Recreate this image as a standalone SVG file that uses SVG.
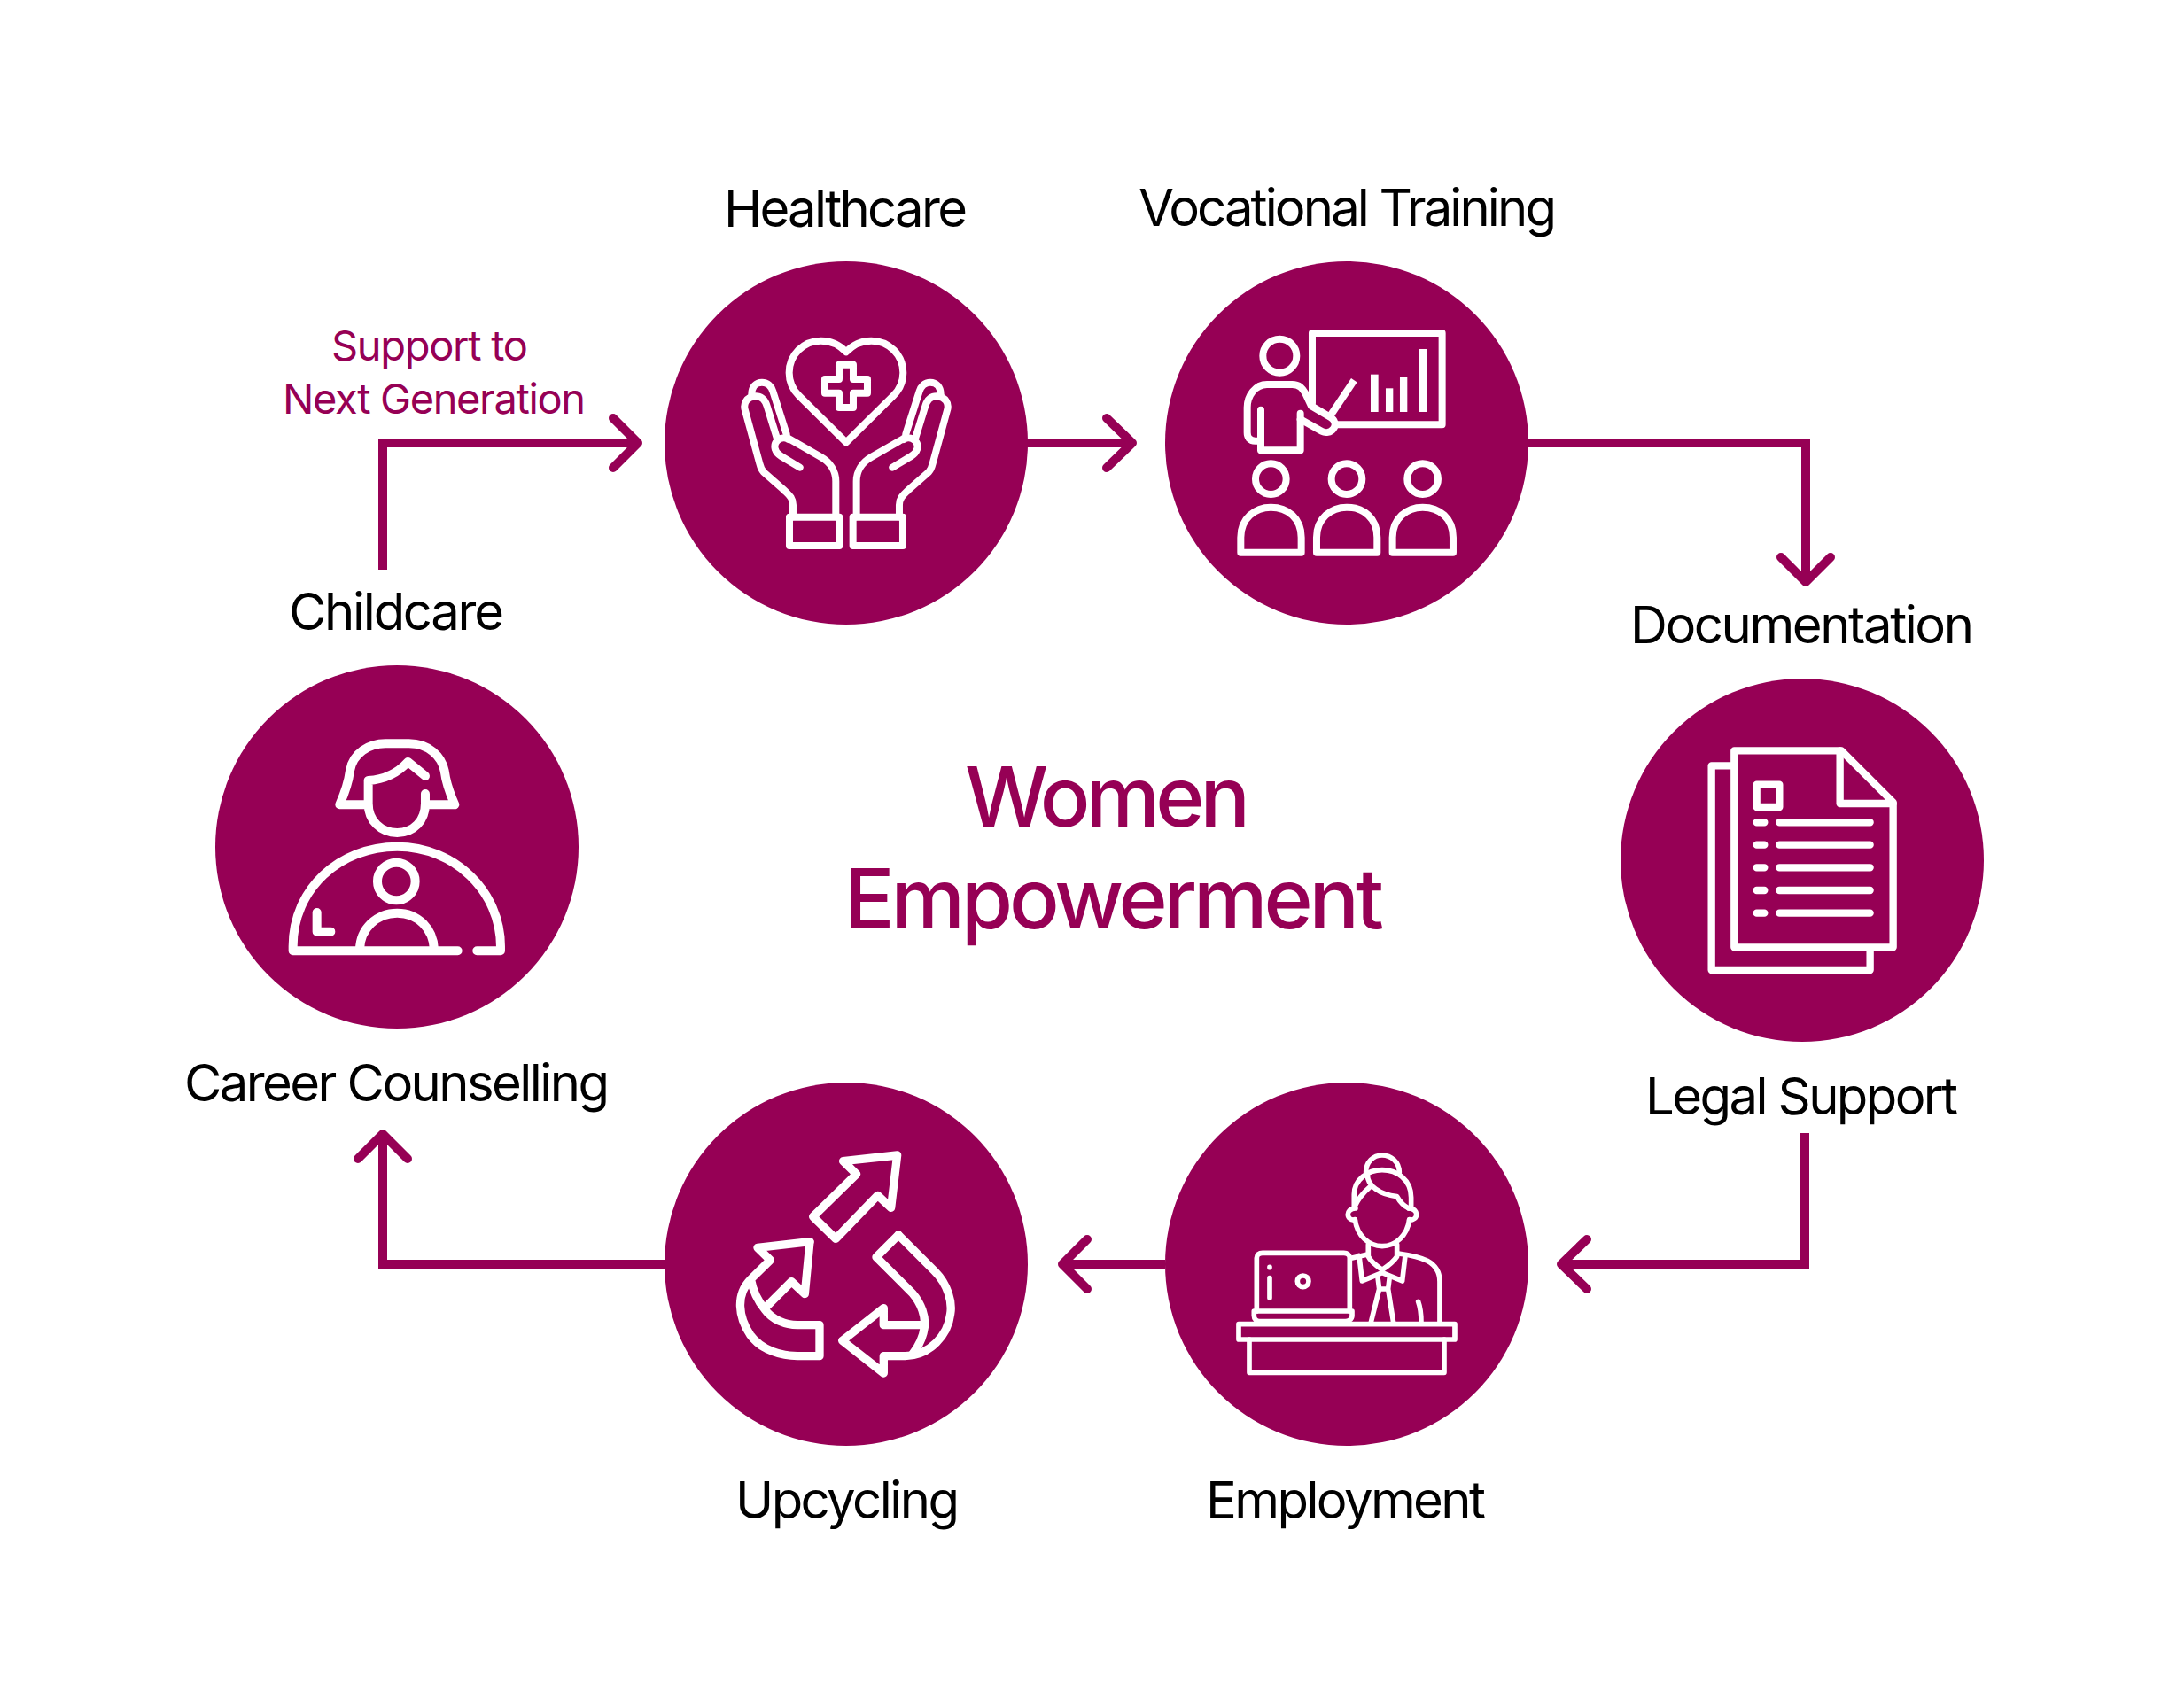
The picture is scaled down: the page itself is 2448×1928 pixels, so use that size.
<svg xmlns="http://www.w3.org/2000/svg" width="2448" height="1928" viewBox="0 0 2448 1928">
<style>
.bg{fill:#fff}
.disc{fill:#960055}
.ic{fill:none;stroke:#fff;stroke-linejoin:round;stroke-linecap:round}
.ln{fill:none;stroke:#960055;stroke-width:10;stroke-linejoin:miter}
.hd{fill:none;stroke:#960055;stroke-width:10;stroke-linejoin:round;stroke-linecap:round}
text{font-family:Inter,"Liberation Sans",sans-serif}
.lb{font-size:58px;fill:#000}
.sm{font-size:47px;fill:#960055}
.ti{font-size:94px;font-weight:500;fill:#960055}
</style>
<rect class="bg" width="2448" height="1928"/>
<g id="connectors">
<path class="ln" d="M432 643V500H720"/><path class="hd" d="M692 472L720 500L692 528"/>
<path class="ln" d="M1159 500H1278"/><path class="hd" d="M1249 472L1278 500L1249 528"/>
<path class="ln" d="M1724 500H2038V655"/><path class="hd" d="M2010 629L2038 657L2066 629"/>
<path class="ln" d="M2037 1279V1427H1764"/><path class="hd" d="M1791 1399L1762 1427L1791 1455"/>
<path class="ln" d="M1315 1427H1200"/><path class="hd" d="M1227 1399L1199 1427L1227 1455"/>
<path class="ln" d="M750 1427H432V1282"/><path class="hd" d="M404 1308L432 1280L460 1308"/>
</g>
<g id="node-healthcare">
<circle class="disc" cx="955" cy="500" r="205"/>
<g class="ic" transform="translate(740 290) scale(.3333)" style="stroke-width:24">
<path d="M645 322C620 295 590 284 560 284C500 284 452 332 452 392C452 425 465 450 485 470L645 628L805 470C825 450 838 425 838 392C838 332 790 284 730 284C700 284 670 295 645 322Z"/>
<path d="M621 365H669V414H717V461H669V510H621V461H573V414H621Z"/>
<g><path d="M465 880V840C465 815 450 805 435 790L365 728C358 720 355 712 352 700L303 520C295 495 310 475 335 472C355 470 370 482 377 505L410 612"/>
<path d="M445 612L560 678C590 695 610 725 610 760V880"/>
<path d="M488 713L425 675C400 660 398 635 412 622C425 610 440 612 450 618"/>
<path d="M325 465C325 440 340 425 360 425C380 425 392 440 397 455L443 600"/>
<rect x="453" y="881" width="169" height="97"/></g>
<g transform="translate(1290 0) scale(-1 1)"><path d="M465 880V840C465 815 450 805 435 790L365 728C358 720 355 712 352 700L303 520C295 495 310 475 335 472C355 470 370 482 377 505L410 612"/>
<path d="M445 612L560 678C590 695 610 725 610 760V880"/>
<path d="M488 713L425 675C400 660 398 635 412 622C425 610 440 612 450 618"/>
<path d="M325 465C325 440 340 425 360 425C380 425 392 440 397 455L443 600"/>
<rect x="453" y="881" width="169" height="97"/></g>
</g>
<text class="lb" x="817" y="256" textLength="275">Healthcare</text>
</g>
<g id="node-vocational">
<circle class="disc" cx="1520" cy="500" r="205"/>
<g class="ic" transform="translate(1310 290) scale(.3333)" style="stroke-width:24">
<circle cx="403" cy="335" r="57"/>
<path d="M513 495V258H953V568H600"/>
<path d="M575 537L655 418" stroke-linecap="butt"/>
<path d="M339 518V655H473V530"/>
<path d="M339 623H320C300 623 293 610 293 595V510C293 470 320 432 360 432H445C470 432 480 445 490 462L510 505L575 543C590 552 595 570 585 582C575 595 558 597 545 590L473 550"/>
<circle cx="373" cy="752" r="52"/><circle cx="630" cy="752" r="52"/><circle cx="887" cy="752" r="52"/>
<path d="M271 1001V950C271 885 320 848 373 848C430 848 476 885 476 950V1001Z"/>
<path d="M528 1001V950C528 885 577 848 630 848C687 848 733 885 733 950V1001Z"/>
<path d="M785 1001V950C785 885 834 848 887 848C944 848 990 885 990 950V1001Z"/>
</g>
<g fill="#fff" transform="translate(1310 290) scale(.3333)"><rect x="711" y="398" width="26" height="127"/><rect x="762" y="445" width="25" height="80"/><rect x="810" y="406" width="25" height="119"/><rect x="876" y="312" width="26" height="213"/></g>
<text class="lb" x="1285" y="255" textLength="472">Vocational Training</text>
</g>
<g id="node-documentation">
<circle class="disc" cx="2034" cy="971" r="205"/>
<g class="ic" transform="translate(1820 760) scale(.3333)" style="stroke-width:25">
<path d="M412 262H775L950 437V928H412Z"/>
<path d="M770 262V441H950"/>
<path d="M400 313H335V1005H872V940"/>
<rect x="488" y="377" width="77" height="76"/>
<path d="M488 505H514M565 505H872M488 581H514M565 581H872M488 658H514M565 658H872M488 735H514M565 735H872M488 812H514M565 812H872"/>
</g>
<text class="lb" x="1840" y="726" textLength="388">Documentation</text>
<text class="lb" x="1857" y="1258" textLength="353">Legal Support</text>
</g>
<g id="node-employment">
<circle class="disc" cx="1520" cy="1427" r="205"/>
<g class="ic" transform="translate(1310 1220) scale(.3333)" style="stroke-width:17">
<rect x="264" y="824" width="732" height="52"/>
<path d="M300 876V988H960V876"/>
<path d="M325 780V600C325 590 332 583 345 583H620C632 583 640 590 640 600V780"/>
<path d="M316 780H648V795C648 808 635 815 625 815H335C325 815 316 808 316 795Z"/>
<path d="M369 631V632M369 668V735"/>
<circle cx="482" cy="679" r="19"/>
<path d="M658 470C665 525 705 560 750 560C795 560 835 525 842 470"/>
<path d="M660 432C640 432 634 445 634 452C634 465 645 472 658 472"/>
<path d="M840 432C860 432 866 445 866 452C866 465 855 472 842 472"/>
<path d="M655 430V385C655 335 700 302 750 302C800 302 848 335 848 395V430"/>
<path d="M655 430C670 395 690 375 708 360"/>
<path d="M700 318C700 355 740 385 800 392C810 410 825 425 840 432"/>
<path d="M695 310C695 275 720 252 750 252C780 252 808 275 808 310"/>
<path d="M703 555V595C710 610 735 630 750 640C765 630 790 610 800 595V555"/>
<path d="M672 592L682 678L750 650L818 678L828 592"/>
<path d="M648 600L700 588M805 585C880 595 945 610 945 680V820"/>
<path d="M735 665L740 705H770L775 665M740 705L712 818M770 705L788 818"/>
<path d="M872 748C880 770 882 790 882 818"/>
</g>
<text class="lb" x="1361" y="1714" textLength="316">Employment</text>
</g>
<g id="node-upcycling">
<circle class="disc" cx="955" cy="1427" r="205"/>
<g class="ic" transform="translate(740 1220) scale(.3333)" style="stroke-width:28">
<path d="M818 252L635 272L680 316L533 460L610 535L752 388L797 430Z"/>
<path d="M522 545L345 565L388 607L322 672C270 725 280 800 320 860C360 915 430 932 480 932H555V827H480C440 827 395 810 370 775C345 745 330 715 322 672"/>
<path d="M370 770L460 680L505 722L522 545"/>
<path d="M822 522L747 597L870 720C900 755 915 800 910 835C905 870 890 900 870 925"/>
<path d="M822 522L945 645C990 690 1005 750 998 790C990 860 930 930 845 932H772V990L632 880L772 770V827H905"/>
</g>
<text class="lb" x="830" y="1714" textLength="253">Upcycling</text>
</g>
<g id="node-career">
<circle class="disc" cx="448" cy="956" r="205"/>
<g class="ic" transform="translate(235 750) scale(.3333)" style="stroke-width:30">
<path d="M845 970H287V955C287 760 445 617 640 617C835 617 990 770 990 955V970H910"/>
<circle cx="637" cy="735" r="64"/>
<path d="M513 965C515 895 570 842 640 842C710 842 762 895 765 965"/>
<path d="M368 840V905H415"/>
<path d="M530 475H445C465 430 475 400 480 360C490 300 545 268 600 268H680C745 268 790 310 800 360C805 400 815 430 835 475H748"/>
<path d="M735 378L676 330C640 370 590 390 542 393V470C542 530 585 570 640 570C695 570 735 530 735 470V438"/>
</g>
<text class="lb" x="208" y="1243" textLength="480">Career Counselling</text>
<text class="lb" x="326" y="711" textLength="243">Childcare</text>
</g>
<g id="labels">
<text class="sm" x="374" y="407" textLength="222">Support to</text>
<text class="sm" x="319" y="467" textLength="342">Next Generation</text>
<text class="ti" x="1089" y="933" textLength="322">Women</text>
<text class="ti" x="953" y="1048" textLength="609">Empowerment</text>
</g>
</svg>
